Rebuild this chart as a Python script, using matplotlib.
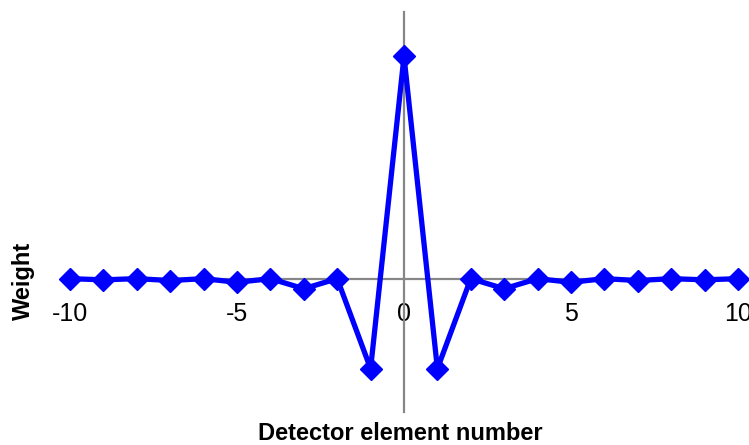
import matplotlib
matplotlib.use("Agg")
import matplotlib.pyplot as plt

# detector element index and filter weight
elements = [-10, -9, -8, -7, -6, -5, -4, -3, -2, -1, 0, 1, 2, 3, 4, 5, 6, 7, 8, 9, 10]
weights = [0.0, -0.0013, 0.0, -0.0021, 0.0, -0.0041, 0.0, -0.0113, 0.0, -0.1013, 0.25,
           -0.1013, 0.0, -0.0113, 0.0, -0.0041, 0.0, -0.0021, 0.0, -0.0013, 0.0]
xticks = [-10, -5, 0, 5, 10]

plt.rcParams['font.family'] = ['Liberation Sans', 'DejaVu Sans']

fig = plt.figure(figsize=(7.49, 4.45), dpi=100)
ax = fig.add_axes([70 / 749, 33 / 445, 668 / 749, 400 / 445])

ax.plot(elements, weights, color='#0000FF', linewidth=3.8, marker='D',
        markersize=11, zorder=3, clip_on=False)

ax.set_xlim(-10, 10)
ax.set_ylim(-0.15, 0.3)

for side in ['top', 'right']:
    ax.spines[side].set_visible(False)
ax.spines['left'].set_position(('data', 0))
ax.spines['bottom'].set_position(('data', 0))
for side in ['left', 'bottom']:
    ax.spines[side].set_color('#878787')
    ax.spines[side].set_linewidth(1.6)

ax.set_xticks(xticks)
ax.set_xticklabels([str(t) for t in xticks])
ax.set_yticks([])
ax.tick_params(axis='x', length=0, pad=17, labelsize=18)

fig.text(400 / 749, 1 - 433 / 445, 'Detector element number', ha='center', va='center',
         fontsize=17, fontweight='bold')
fig.text(23 / 749, 1 - 281 / 445, 'Weight', ha='center', va='center', rotation=90,
         fontsize=17, fontweight='bold')

fig.savefig('out.png', dpi=100)
